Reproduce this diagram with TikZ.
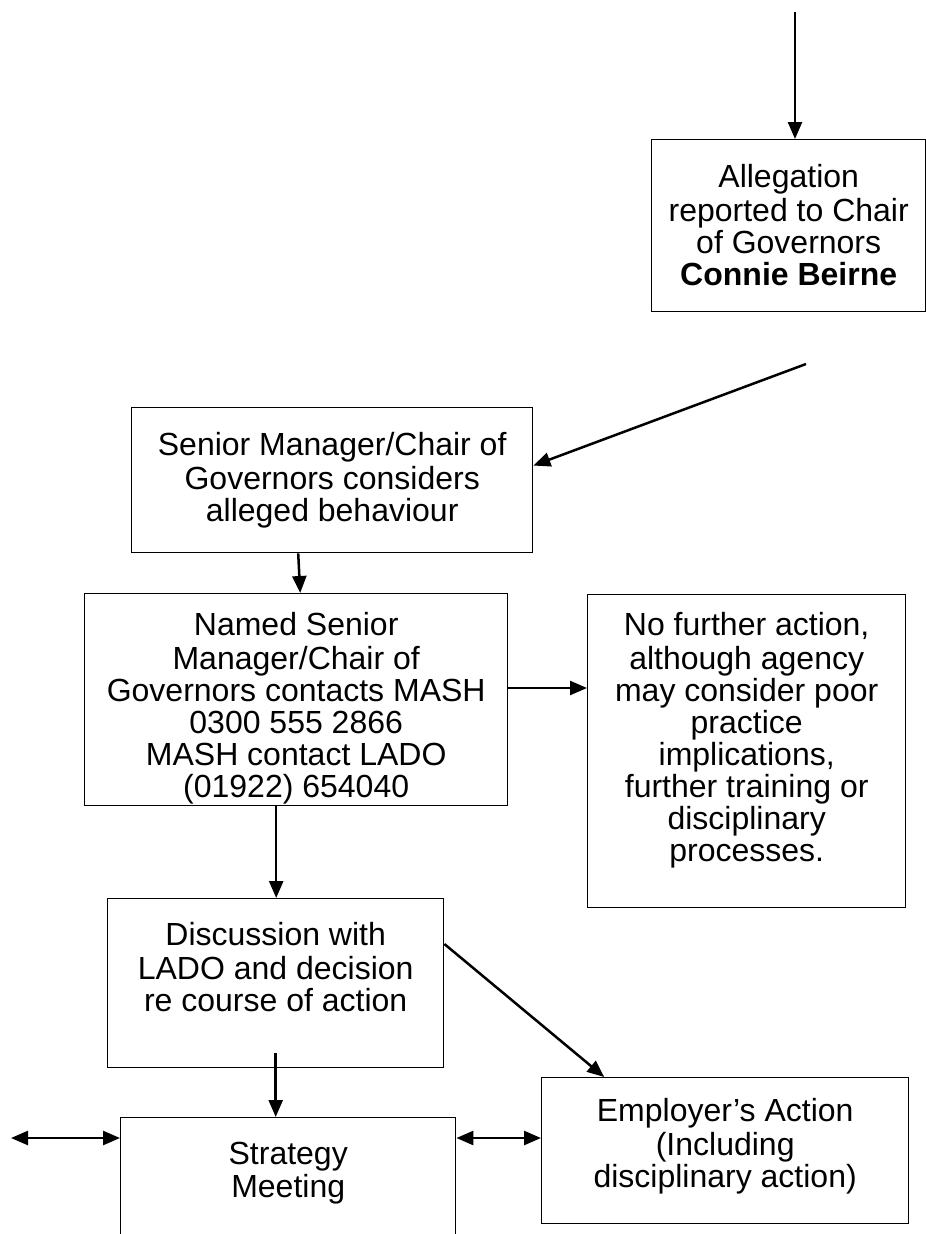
\documentclass[tikz,border=0pt]{standalone}
\usepackage{fontspec}
\setmainfont{Liberation Sans}
\usetikzlibrary{arrows.meta,calc}
\newcommand{\bxtext}[4]{\parbox[c][#2][t]{#1}{\centering\vspace*{#3}\strut#4}}
\tikzset{
  flowbox/.style={draw, line width=1.4pt, rectangle, inner sep=0pt, anchor=north west,
    font=\fontsize{32}{32}\selectfont},
  arr/.style={line width=2.5pt, -{Triangle[length=17pt,width=14pt]}},
  darr/.style={line width=2.5pt, {Triangle[length=17pt,width=14pt]}-{Triangle[length=17pt,width=14pt]}}
}
\begin{document}
\begin{tikzpicture}[x=1pt,y=-1pt]
\useasboundingbox (0,0) rectangle (926,1234);
\clip (0,0) rectangle (926,1234);
\node[flowbox] (alleg) at (651,139) {\bxtext{274pt}{172pt}{25pt}{Allegation\\reported to Chair\\of Governors\\\textbf{Connie Beirne}}};
\node[flowbox] (senior) at (131,407) {\bxtext{401pt}{145pt}{25pt}{Senior Manager/Chair of\\Governors considers\\alleged behaviour}};
\node[flowbox] (named) at (84,593) {\bxtext{423pt}{212pt}{19pt}{Named Senior\\Manager/Chair of\\Governors contacts MASH\\0300 555 2866\\MASH contact LADO\\(01922) 654040}};
\node[flowbox] (nofurther) at (587,594) {\bxtext{318pt}{313pt}{18pt}{No further action,\\although agency\\may consider poor\\practice\\implications,\\further training or\\disciplinary\\processes.}};
\node[flowbox] (discuss) at (107,898) {\bxtext{336pt}{169pt}{24pt}{Discussion with\\LADO and decision\\re course of action}};
\node[flowbox] (strategy) at (120,1117) {\bxtext{335pt}{160pt}{24pt}{Strategy\\Meeting}};
\node[flowbox] (employer) at (541,1077) {\bxtext{367pt}{146pt}{21pt}{Employer’s Action\\(Including\\disciplinary action)}};
\coordinate (topstart) at (795,12);
\coordinate (diagstart) at (806,364);
\coordinate (leftend) at (11,1138);
\draw[arr] (topstart) -- (topstart |- alleg.north);
\draw[arr] (diagstart) -- ($(senior.north east)!0.4!(senior.south east)$);
\draw[arr] ([xshift=-34pt]senior.south) -- ([xshift=4pt]named.north);
\draw[arr] (named.east |- 0,688) -- (nofurther.west |- 0,688);
\draw[arr] ([xshift=-20pt]named.south) -- ([xshift=-20pt]named.south |- discuss.north);
\draw[arr] ($(discuss.north east)!0.27!(discuss.south east)$) -- ([xshift=-121pt]employer.north);
\draw[arr] ([yshift=15pt]discuss.south) -- (discuss.south |- strategy.north);
\draw[darr] ([yshift=-21pt]strategy.north east) -- ([yshift=-21pt]strategy.north east -| employer.west);
\draw[darr] (leftend) -- (leftend -| strategy.west);
\end{tikzpicture}
\end{document}
